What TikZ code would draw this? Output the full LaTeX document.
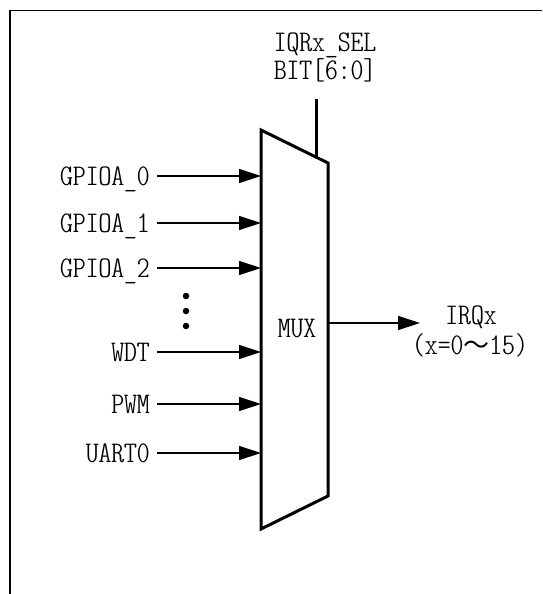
\documentclass[tikz,border=0pt]{standalone}
\usepackage{fontspec}
\usetikzlibrary{arrows.meta}
\newfontfamily\labfont[FakeStretch=1.22]{Latin Modern Mono Light Cond}
\newfontfamily\cjk{Noto Sans CJK SC}
\tikzset{
  lab/.style={font=\labfont\fontsize{30}{34}\selectfont, inner sep=0pt, text depth=0pt},
  inlab/.style={lab, anchor=east, inner xsep=7pt},
  arr/.style={line width=1.3pt, -{Triangle[length=22pt,width=14pt]}},
  muxline/.style={line width=3pt, line join=miter},
  frame/.style={line width=1.5pt},
  dot/.style={circle, fill=black, inner sep=0pt, minimum size=6.5pt},
}
\begin{document}
\begin{tikzpicture}[x=1pt,y=1pt]
\useasboundingbox (0,0) rectangle (542,-594);
% frame
\coordinate (fr) at (542,-10.5);
\coordinate (fc) at (10,-10.5);
\coordinate (fb) at (10,-594);
\draw[frame] (fr) -- (fc) -- (fb);
% mux
\coordinate (mtl) at (261,-130);
\coordinate (mtr) at (328,-163);
\coordinate (mbr) at (328,-496);
\coordinate (mbl) at (261,-529);
\draw[muxline] (mtl) -- (mtr) -- (mbr) -- (mbl) -- cycle;
\node[lab] (mux) at (297,-328) {MUX};
% select
\node[lab, anchor=base] (sel1) at (325,-51.7) {IQRx\_SEL};
\node[lab, anchor=base] (sel2) at (325,-79) {BIT[6:0]};
\coordinate (st) at (316,-99);
\coordinate (sb) at (316,-157);
\draw[line width=3pt] (st) -- (sb);
% inputs
\node[inlab] (g0) at (157,-176) {GPIOA\_0};
\node[inlab] (g1) at (157,-223) {GPIOA\_1};
\node[inlab] (g2) at (157,-268) {GPIOA\_2};
\node[inlab] (wdt) at (157,-352) {WDT};
\node[inlab] (pwm) at (157,-404) {PWM};
\node[inlab] (uart) at (157,-453) {UART0};
\foreach \n in {g0,g1,g2,wdt,pwm,uart}
  \draw[arr] (\n.east) -- (\n.east -| mtl);
% dots
\node[dot] (d1) at (186,-296) {};
\node[dot] (d2) at (186,-311) {};
\node[dot] (d3) at (186,-326) {};
% output
\coordinate (oa) at (328,-323);
\coordinate (ob) at (420,-323);
\draw[arr] (oa) -- (ob);
\node[lab] (irq) at (471,-315) {IRQx};
\node[lab] (rng) at (470,-344) {(x=0{\cjk\fontsize{26}{30}\selectfont ～}15)};
\end{tikzpicture}
\end{document}
